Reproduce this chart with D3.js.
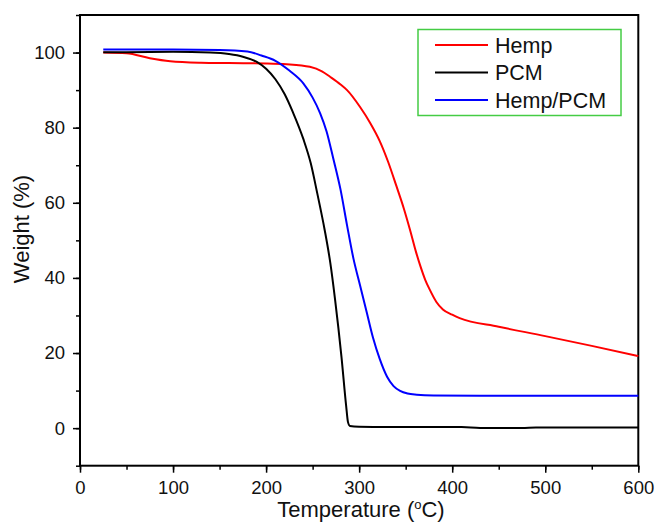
<!DOCTYPE html>
<html>
<head>
<meta charset="utf-8">
<script src="https://cdn.jsdelivr.net/npm/d3@7"></script>
<style>
  body { margin: 0; background: #fff; }
  svg { font-family: "Liberation Sans", Arial, sans-serif; }
</style>
</head>
<body>
<div id="chart"></div>
<script>
// TGA curves: [temperature (°C), weight (%)]
const hemp = [
  [25, 100], [50, 99.8], [75, 98.5], [97, 97.7], [130, 97.3], [160, 97.2], [200, 97.1],
  [222, 96.9], [247, 96.2], [260, 95], [269, 93.5], [280, 91.5], [287, 90], [301, 85.5],
  [312, 81.2], [322, 76.5], [331, 71], [340, 64.5], [348, 58.5], [355, 52.5], [361, 47],
  [366, 43], [371, 39.5], [376, 36.8], [383, 33.6], [390, 31.6], [400, 30.2], [408, 29.3],
  [450, 27.0], [500, 24.5], [550, 21.9], [600, 19.2]
];
const pcm = [
  [25, 100.1], [50, 100.1], [100, 100.2], [140, 100], [160, 99.6], [175, 98.9], [190, 97.5],
  [200, 95.7], [210, 92.9], [220, 88.9], [229, 84], [240, 77], [248, 70.5], [255, 62.5],
  [263, 52.7], [269, 44], [274, 34.5], [281, 19], [286, 6], [288, 1.6], [290, 0.6],
  [300, 0.4], [330, 0.3], [410, 0.3], [430, 0.05], [475, 0.05], [490, 0.2], [600, 0.2]
];
const hempPcm = [
  [25, 100.8], [100, 100.8], [150, 100.7], [180, 100.3], [195, 99.2], [210, 97.8],
  [225, 95.2], [240, 91.8], [250, 88], [258, 83.9], [265, 79], [272, 72], [280, 63.5],
  [287, 54], [294, 45], [301, 38], [308, 31], [315, 24], [322, 18.5], [330, 13.7],
  [337, 11.2], [344, 9.9], [352, 9.2], [362, 8.9], [380, 8.7], [450, 8.6], [600, 8.6]
];

const series = [
  { name: "Hemp", data: hemp, color: "#ff0000" },
  { name: "PCM", data: pcm, color: "#000000" },
  { name: "Hemp/PCM", data: hempPcm, color: "#0000ff" }
];

const xMajor = [0, 100, 200, 300, 400, 500, 600];
const yMajor = [0, 20, 40, 60, 80, 100];

const W = 656, H = 523;
const plot = { left: 80, right: 638.3, top: 15, bottom: 465.7 };

const svg = d3.select("#chart").append("svg")
  .attr("width", W).attr("height", H);

const x = d3.scaleLinear().domain([0, 600]).range([plot.left, plot.right]);
const y = d3.scaleLinear().domain([-10, 110]).range([plot.bottom, plot.top]);

// minor ticks
svg.append("g")
  .attr("transform", `translate(0,${plot.bottom})`)
  .call(d3.axisBottom(x).tickValues(d3.range(0, 601, 50)).tickSize(4).tickFormat(""))
  .call(g => g.select(".domain").remove())
  .selectAll("line").attr("stroke-width", 1.5);
svg.append("g")
  .attr("transform", `translate(${plot.left},0)`)
  .call(d3.axisLeft(y).tickValues(d3.range(-10, 111, 10)).tickSize(4).tickFormat(""))
  .call(g => g.select(".domain").remove())
  .selectAll("line").attr("stroke-width", 1.5);

// major ticks + labels
const xAxis = svg.append("g")
  .attr("transform", `translate(0,${plot.bottom})`)
  .call(d3.axisBottom(x).tickValues(xMajor).tickSize(7).tickPadding(8).tickFormat(d3.format("d")));
xAxis.select(".domain").remove();
xAxis.selectAll("line").attr("stroke-width", 1.5);
xAxis.selectAll("text").attr("font-size", 18.5).attr("fill", "#111")
  .attr("font-family", "'Liberation Sans', Arial, sans-serif");

const yAxis = svg.append("g")
  .attr("transform", `translate(${plot.left},0)`)
  .call(d3.axisLeft(y).tickValues(yMajor).tickSize(7).tickPadding(8).tickFormat(d3.format("d")));
yAxis.select(".domain").remove();
yAxis.selectAll("line").attr("stroke-width", 1.5);
yAxis.selectAll("text").attr("font-size", 18.5).attr("fill", "#111")
  .attr("font-family", "'Liberation Sans', Arial, sans-serif");

// frame
svg.append("rect")
  .attr("x", plot.left).attr("y", plot.top)
  .attr("width", plot.right - plot.left).attr("height", plot.bottom - plot.top)
  .attr("fill", "none").attr("stroke", "#000").attr("stroke-width", 2);

// curves
const line = d3.line()
  .x(d => x(d[0]))
  .y(d => y(d[1]))
  .curve(d3.curveMonotoneX);

series.forEach(s => {
  svg.append("path")
    .datum(s.data)
    .attr("fill", "none")
    .attr("stroke", s.color)
    .attr("stroke-width", 2)
    .attr("d", line);
});

// axis titles
svg.append("text")
  .attr("x", 361).attr("y", 517)
  .attr("text-anchor", "middle")
  .attr("font-size", 22)
  .attr("fill", "#111")
  .html('Temperature (<tspan font-size="13" dy="-8">o</tspan><tspan dy="8">C)</tspan>');

svg.append("text")
  .attr("transform", "translate(29,229) rotate(-90)")
  .attr("text-anchor", "middle")
  .attr("font-size", 22)
  .attr("fill", "#111")
  .text("Weight (%)");

// legend
const legend = svg.append("g");
legend.append("rect")
  .attr("x", 418).attr("y", 29.5).attr("width", 203).attr("height", 86)
  .attr("fill", "#fff").attr("stroke", "#44cc44").attr("stroke-width", 1.5);

series.forEach((s, i) => {
  const yy = 45 + i * 27.5;
  legend.append("line")
    .attr("x1", 435).attr("x2", 488).attr("y1", yy).attr("y2", yy)
    .attr("stroke", s.color).attr("stroke-width", 2);
  legend.append("text")
    .attr("x", 495).attr("y", yy + 7.5)
    .attr("font-size", 21.5)
    .attr("fill", "#111")
    .text(s.name);
});
</script>
</body>
</html>
